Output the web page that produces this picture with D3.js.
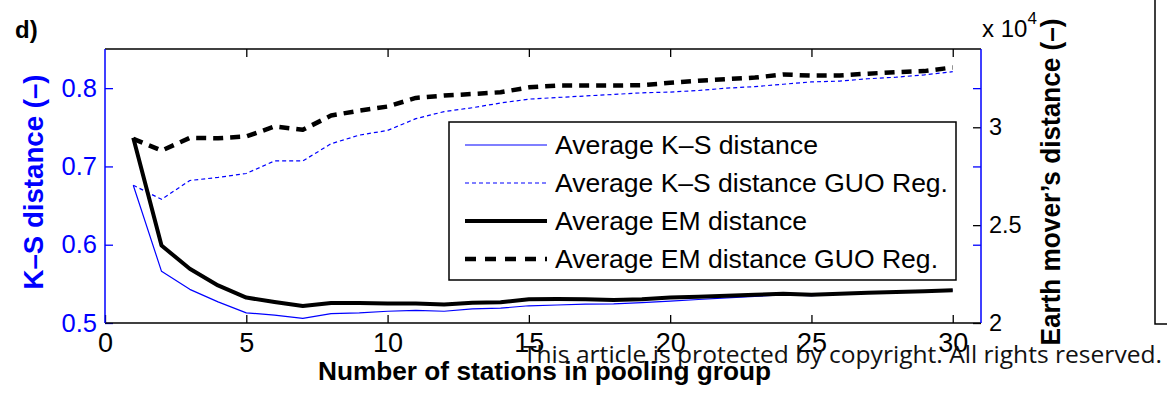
<!DOCTYPE html>
<html>
<head>
<meta charset="utf-8">
<script src="https://cdn.jsdelivr.net/npm/d3@7"></script>
<style>
body { margin: 0; background: #fff; }
svg text { font-family: "Liberation Sans", Arial, Helvetica, sans-serif; }
</style>
</head>
<body>
<script>
// data
const stations = [1,2,3,4,5,6,7,8,9,10,11,12,13,14,15,16,17,18,19,20,21,22,23,24,25,26,27,28,29,30];
const ksAvg = [0.676,0.566,0.543,0.527,0.513,0.510,0.506,0.512,0.513,0.515,0.516,0.515,0.518,0.519,0.522,0.523,0.524,0.5245,0.526,0.528,0.530,0.532,0.534,0.536,0.535,0.537,0.538,0.540,0.541,0.542];
const ksGuo = [0.676,0.658,0.682,0.686,0.691,0.707,0.707,0.729,0.740,0.746,0.761,0.770,0.775,0.781,0.786,0.788,0.790,0.792,0.794,0.795,0.797,0.800,0.802,0.805,0.808,0.809,0.812,0.814,0.817,0.821];
const emAvg = [2.947,2.396,2.277,2.192,2.130,2.107,2.087,2.102,2.102,2.100,2.100,2.095,2.103,2.106,2.121,2.122,2.121,2.117,2.121,2.130,2.134,2.139,2.144,2.149,2.144,2.149,2.154,2.159,2.162,2.167];
const emGuo = [2.941,2.881,2.946,2.944,2.953,3.004,2.987,3.060,3.085,3.106,3.150,3.162,3.170,3.179,3.204,3.213,3.213,3.213,3.215,3.227,3.238,3.246,3.254,3.270,3.264,3.265,3.274,3.282,3.287,3.306];
const xTicks = [0,5,10,15,20,25,30];
const ksTicks = [0.5,0.6,0.7,0.8];
const emTicks = [2,2.5,3];
const legendLabels = ["Average K\u2013S distance","Average K\u2013S distance GUO Reg.","Average EM distance","Average EM distance GUO Reg."];

const margin = {top: 49, right: 186, bottom: 70, left: 105},
  width = 1167 - margin.left - margin.right,
  height = 393 - margin.top - margin.bottom;

const root = d3.select("body")
  .append("svg")
  .attr("width", 1167)
  .attr("height", 393);

const svg = root.append("g")
  .attr("transform", `translate(${margin.left}, ${margin.top})`);

const blue = "#0000ff";

// scales
const x = d3.scaleLinear().domain([0, 31]).range([0, width]);
const yKS = d3.scaleLinear().domain([0.5, 0.85]).range([height, 0]);
const yEM = d3.scaleLinear().domain([2, 3.4]).range([height, 0]);

// axes (ticks point inward like matlab)
function styleAxis(g, color, size) {
  g.attr("font-family", null).attr("font-size", null);
  g.selectAll("line").attr("stroke", color).attr("stroke-width", 1.3);
  g.selectAll("text").attr("fill", color).style("font-size", size + "px");
  g.select(".domain").remove();
}

svg.append("g")
  .attr("transform", `translate(0, ${height})`)
  .call(d3.axisBottom(x).tickValues(xTicks).tickSize(-8).tickPadding(10).tickFormat(d3.format("d")))
  .call(g => styleAxis(g, "#000", 27));

svg.append("g")
  .call(d3.axisTop(x).tickValues(xTicks.slice(1)).tickSize(-8).tickFormat(""))
  .call(g => styleAxis(g, "#000", 24));

svg.append("g")
  .call(d3.axisLeft(yKS).tickValues(ksTicks).tickSize(-8).tickPadding(8).tickFormat(d3.format(".1f")))
  .call(g => styleAxis(g, blue, 25.5));

svg.append("g")
  .attr("transform", `translate(${width}, 0)`)
  .call(d3.axisRight(yKS).tickValues(ksTicks.slice(1)).tickSize(-8).tickFormat(""))
  .call(g => styleAxis(g, blue, 20));

svg.append("g")
  .attr("transform", `translate(${width}, 0)`)
  .call(d3.axisRight(yEM).tickValues(emTicks).tickSize(-8).tickPadding(8).tickFormat(d => d))
  .call(g => styleAxis(g, "#000", 23.5));

// box
svg.append("line").attr("x1", 0).attr("x2", width).attr("y1", 0).attr("y2", 0).attr("stroke", "#000").attr("stroke-width", 1.5);
svg.append("line").attr("x1", 0).attr("x2", width).attr("y1", height).attr("y2", height).attr("stroke", "#000").attr("stroke-width", 1.5);
svg.append("line").attr("x1", 0).attr("x2", 0).attr("y1", 0).attr("y2", height).attr("stroke", blue).attr("stroke-width", 1.5);
svg.append("line").attr("x1", width).attr("x2", width).attr("y1", 0).attr("y2", height).attr("stroke", blue).attr("stroke-width", 1.5);

// series
const series = [
  {vals: ksAvg, y: yKS, color: blue, w: 1.2, dash: null},
  {vals: ksGuo, y: yKS, color: blue, w: 1.2, dash: "4,3"},
  {vals: emAvg, y: yEM, color: "#000", w: 4, dash: null},
  {vals: emGuo, y: yEM, color: "#000", w: 4.5, dash: "10,7"}
];

series.forEach(s => {
  const line = d3.line()
    .x((d, i) => x(stations[i]))
    .y(d => s.y(d));
  svg.append("path")
    .datum(s.vals)
    .attr("d", line)
    .attr("fill", "none")
    .attr("stroke", s.color)
    .attr("stroke-width", s.w)
    .attr("stroke-linejoin", "round")
    .attr("stroke-dasharray", s.dash);
});

// legend
const legendWidths = [263, 393, 252, 383];
const legend = root.append("g").attr("transform", "translate(449, 122)");
legend.append("rect")
  .attr("width", 507)
  .attr("height", 158)
  .attr("fill", "#fff")
  .attr("stroke", "#000")
  .attr("stroke-width", 1.5);

legendLabels.forEach((lab, i) => {
  const s = series[i];
  const yy = 23 + i * 38;
  legend.append("line")
    .attr("x1", 16).attr("x2", 98)
    .attr("y1", yy).attr("y2", yy)
    .attr("stroke", s.color)
    .attr("stroke-width", s.w)
    .attr("stroke-dasharray", i == 3 ? "11,9" : s.dash);
  legend.append("text")
    .attr("x", 106)
    .attr("y", yy)
    .attr("dy", "0.35em")
    .style("font-size", "26px")
    .attr("textLength", legendWidths[i])
    .attr("lengthAdjust", "spacingAndGlyphs")
    .text(lab);
});

// labels
root.append("text")
  .attr("x", 15).attr("y", 38)
  .style("font-size", "24px").style("font-weight", "bold")
  .text("d)");

root.append("text")
  .attr("transform", "translate(43, 182) rotate(-90)")
  .attr("text-anchor", "middle")
  .style("font-size", "28px").style("font-weight", "bold")
  .attr("fill", blue)
  .attr("textLength", 215)
  .attr("lengthAdjust", "spacingAndGlyphs")
  .text("K\u2013S distance (\u2013)");

root.append("text")
  .attr("transform", "translate(1060, 182) rotate(-90)")
  .attr("text-anchor", "middle")
  .style("font-size", "27px").style("font-weight", "bold")
  .attr("textLength", 327)
  .attr("lengthAdjust", "spacingAndGlyphs")
  .text("Earth mover\u2019s distance (\u2013)");

root.append("text")
  .attr("x", 318).attr("y", 380)
  .style("font-size", "25.5px").style("font-weight", "bold")
  .attr("textLength", 453)
  .attr("lengthAdjust", "spacingAndGlyphs")
  .text("Number of stations in pooling group");

const mult = root.append("text")
  .attr("x", 982).attr("y", 37)
  .style("font-size", "24px");
mult.append("tspan").text("x 10");
mult.append("tspan").attr("dy", -13).style("font-size", "17px").text("4");

// piece of the neighbouring panel
root.append("path")
  .attr("d", "M1155,0 V324 H1167")
  .attr("fill", "none")
  .attr("stroke", "#000")
  .attr("stroke-width", 1.5);

// watermark
root.append("text")
  .attr("x", 523).attr("y", 363)
  .style("font-family", "'Open Sans', sans-serif")
  .style("font-size", "23px")
  .attr("fill", "#111")
  .attr("textLength", 639)
  .attr("lengthAdjust", "spacingAndGlyphs")
  .text("This article is protected by copyright. All rights reserved.");
</script>
</body>
</html>
